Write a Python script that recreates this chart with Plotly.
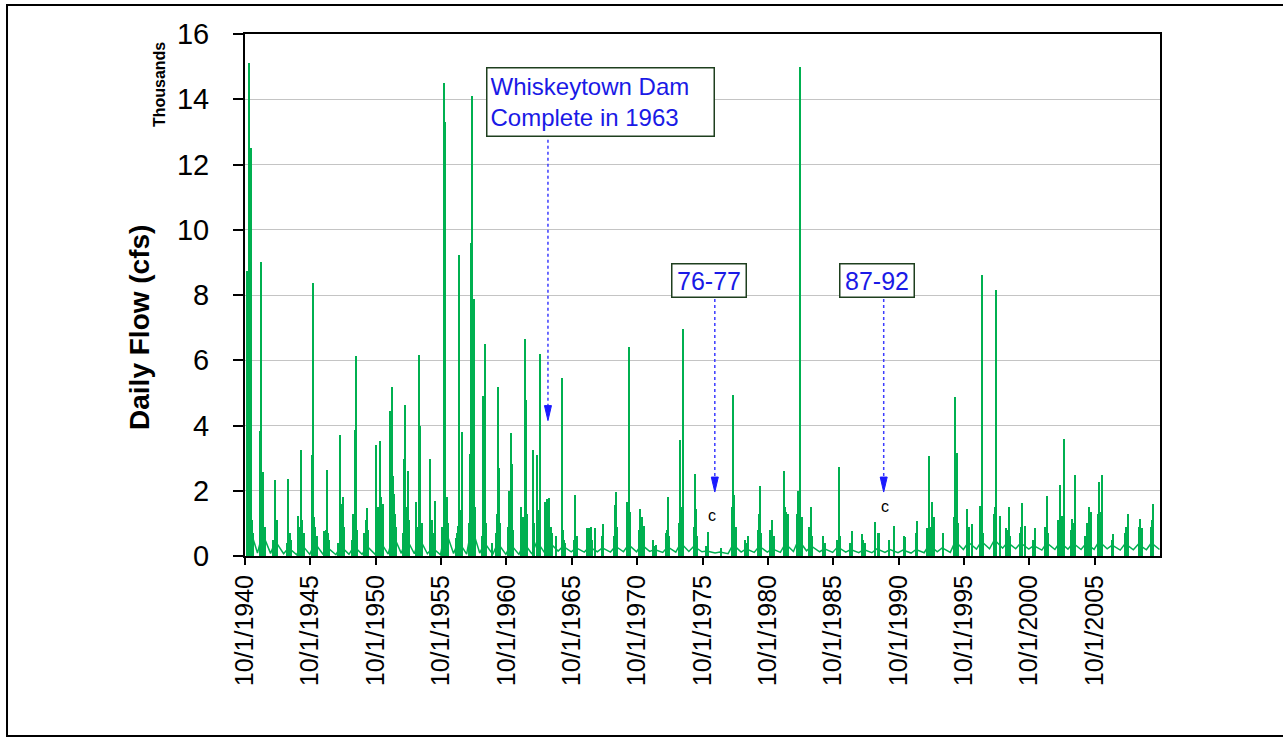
import plotly.graph_objects as go

# ---------------- data ----------------
# major daily-flow spikes (date, cfs)
spike_dates = [
    "1940-12-01", "1940-12-24", "1941-02-08", "1941-03-25", "1941-12-10", "1942-01-08", "1942-03-04",
    "1943-01-12", "1944-02-03", "1944-11-06", "1945-01-22", "1945-11-22", "1945-12-20", "1946-10-30",
    "1947-01-22", "1948-01-08", "1948-04-08", "1949-02-28", "1949-03-28", "1950-02-06", "1950-10-30",
    "1951-01-30", "1951-05-04", "1951-11-24", "1952-01-01", "1952-01-26", "1952-12-16", "1953-01-15",
    "1953-03-18", "1953-11-03", "1954-01-19", "1954-02-14", "1954-12-08", "1955-04-27", "1955-12-28",
    "1956-01-15", "1956-02-06", "1956-11-28", "1957-01-11", "1957-02-21", "1957-05-16", "1957-12-28",
    "1958-01-19", "1958-02-24", "1958-04-12", "1959-01-04", "1959-02-13", "1959-09-13", "1960-02-06",
    "1960-03-07", "1960-12-09", "1961-02-03", "1961-03-11", "1961-11-24", "1962-02-28", "1962-03-26",
    "1962-10-16", "1963-02-10", "1963-04-20", "1963-05-05", "1963-10-01", "1963-11-14", "1964-01-22",
    "1964-07-23", "1964-12-27", "1965-01-26", "1966-01-12", "1966-12-20", "1967-02-06", "1967-03-22",
    "1967-07-20", "1968-03-07", "1969-01-15", "1969-02-13", "1970-01-01", "1970-02-17", "1970-04-05",
    "1971-01-08", "1971-04-08", "1972-02-17", "1972-12-13", "1973-02-06", "1974-01-22", "1974-04-22",
    "1975-03-15", "1975-04-10", "1976-03-17", "1978-02-10", "1978-03-11", "1979-04-02", "1980-01-04",
    "1980-03-10", "1980-12-13", "1981-02-06", "1981-12-28", "1982-02-28", "1982-04-16", "1983-02-06",
    "1983-03-14", "1983-04-01", "1984-01-22", "1984-12-13", "1986-03-18", "1987-03-25", "1987-12-28",
    "1988-12-13", "1989-04-02", "1990-06-13", "1991-04-13", "1992-03-04", "1992-12-05", "1993-02-17",
    "1993-04-23", "1993-07-05", "1994-03-10", "1995-01-30", "1995-03-18", "1995-12-20", "1996-05-08",
    "1997-01-11", "1997-02-10", "1998-03-14", "1998-04-01", "1998-07-02", "1999-01-04", "1999-03-07",
    "2000-03-25", "2000-05-26", "2001-03-29", "2002-02-06", "2003-02-10", "2003-04-01", "2003-06-10",
    "2004-01-26", "2004-04-01", "2005-03-18", "2005-05-05", "2005-06-21", "2006-02-06", "2006-03-07",
    "2006-05-08", "2007-03-11", "2008-04-20", "2009-04-09", "2009-05-26", "2010-04-05",
]
spike_flows = [
    8740, 6400, 15100, 12500, 3840, 9000, 2570,
    2330, 2350, 1240, 3240, 3100, 8360, 770,
    2630, 3700, 1800, 3870, 6140, 1470, 3400,
    3540, 1600, 4450, 5170, 2450, 2980, 4630,
    2600, 1660, 6170, 3980, 2980, 1700, 14500,
    8100, 13300, 560, 930, 9240, 3800, 3140,
    9600, 14100, 7870, 4900, 6500, 400, 5170,
    2700, 1980, 3770, 2820, 1500, 6660, 4770,
    3250, 3100, 6200, 4260, 1650, 1760, 1780,
    600, 5460, 800, 1860, 870, 850, 900,
    870, 980, 1550, 1970, 1650, 6400, 1350,
    1450, 930, 300, 700, 1800, 3550, 6950,
    2500, 1450, 750, 4920, 1860, 600, 800,
    2160, 800, 1100, 2600, 1350, 1300, 1100,
    15000, 3430, 1500, 600, 2720, 770, 670,
    1030, 700, 930, 580, 1080, 870, 3060,
    1650, 1190, 700, 4860, 3170, 1450, 980,
    1540, 8600, 8160, 1960, 1230, 870, 1500,
    1640, 920, 870, 1840, 2170, 1230, 3580,
    1130, 2490, 1020, 1500, 1340, 2260, 1340,
    2490, 660, 1300, 1130, 870, 1600,
]

# smaller storm responses (estimated from the dense lower band)
minor_dates = [
    "1941-01-10", "1941-04-25", "1941-05-20", "1941-11-20", "1942-02-10", "1942-04-10",
    "1942-11-25", "1943-02-15", "1943-03-30", "1943-12-10", "1944-03-05", "1944-04-20",
    "1944-12-20", "1945-02-25", "1945-04-05", "1946-01-15", "1946-02-20", "1946-04-01",
    "1946-12-05", "1947-02-20", "1947-03-20", "1947-11-20", "1948-02-20", "1948-03-05", "1948-05-15",
    "1948-12-15", "1949-01-20", "1949-04-20", "1949-11-20", "1950-01-10", "1950-03-15",
    "1950-12-10", "1951-02-20", "1951-03-20", "1951-12-15", "1952-02-20", "1952-03-25", "1952-04-20",
    "1952-11-20", "1953-02-10", "1953-04-20", "1953-12-10", "1954-03-10", "1954-04-10",
    "1954-11-20", "1955-01-20", "1955-03-01", "1955-11-15", "1956-03-10", "1956-04-15",
    "1956-12-20", "1957-03-20", "1957-04-15", "1957-11-20", "1958-03-15", "1958-05-10",
    "1958-11-20", "1959-01-25", "1959-03-20", "1959-12-20", "1960-01-20", "1960-04-10",
    "1960-11-20", "1961-01-15", "1961-04-05", "1961-12-15", "1962-01-20", "1962-04-20",
    "1962-11-20", "1963-01-25", "1963-03-20", "1963-12-20", "1964-02-20", "1964-04-10",
    "1965-02-20", "1965-04-10", "1965-12-10", "1966-03-10", "1967-01-10", "1967-04-20",
    "1968-01-20", "1968-02-20", "1968-12-20", "1969-03-20", "1970-03-10", "1970-12-05", "1971-03-01",
    "1971-12-20", "1972-03-20", "1973-01-15", "1973-03-20", "1973-12-15", "1974-03-05",
    "1975-02-10", "1975-05-01", "1976-01-15", "1977-03-01", "1978-01-15", "1978-04-20",
    "1979-01-10", "1979-02-20", "1980-01-25", "1980-04-10", "1981-03-20", "1982-01-20",
    "1982-03-20", "1982-05-01", "1982-12-20", "1983-01-25", "1983-05-05", "1983-12-10", "1984-03-05",
    "1985-02-10", "1986-01-20", "1986-04-10", "1987-01-15", "1988-01-20", "1988-03-10",
    "1989-03-10", "1990-01-15", "1991-03-05", "1992-02-15", "1993-01-20", "1993-03-20",
    "1994-02-20", "1995-01-10", "1995-04-10", "1996-01-20", "1996-02-20", "1996-12-15", "1997-03-20",
    "1998-01-20", "1998-02-10", "1999-02-15", "1999-04-10", "2000-01-20", "2000-02-20",
    "2001-01-20", "2001-12-20", "2002-03-10", "2002-12-20", "2003-03-15", "2003-12-25", "2004-02-20",
    "2005-01-10", "2005-02-20", "2005-12-30", "2006-04-05", "2007-02-10", "2008-01-25", "2008-02-25",
    "2009-02-20", "2009-03-10", "2010-01-20", "2010-02-10",
]
minor_flows = [
    1400, 1100, 700, 600, 1300, 900,
    500, 900, 1100, 400, 700, 500,
    900, 1100, 700, 1200, 900, 600,
    800, 700, 500, 400, 700, 1600, 900,
    500, 1300, 800, 700, 1100, 800,
    1500, 1800, 900, 1400, 1900, 1300, 900,
    700, 1500, 1100, 900, 1600, 1000,
    800, 1100, 700, 900, 1800, 1000,
    700, 1400, 1100, 1000, 2600, 1500,
    600, 1800, 1000, 700, 1300, 1000,
    900, 1400, 800, 900, 1200, 1300,
    1000, 1600, 1400, 1500, 900, 700,
    500, 400, 500, 600, 700, 500,
    600, 500, 600, 900, 900, 800, 1200,
    500, 350, 800, 600, 1000, 1500,
    900, 600, 300, 250, 1500, 900,
    500, 400, 1300, 700, 600, 1500,
    1000, 700, 1300, 2000, 1200, 900, 600,
    400, 500, 600, 400, 500, 400,
    700, 500, 600, 700, 1400, 900,
    600, 1200, 1000, 700, 900, 1100, 700,
    1300, 1500, 800, 600, 700, 900,
    500, 900, 700, 1100, 900, 800, 1000,
    600, 700, 1300, 1100, 500, 700, 900,
    700, 900, 900, 1100,
]

# seasonal base flow by water year: winter (Feb 1) and late summer (Sep 15)
water_years = list(range(1941, 2011))
winter_base = [
    900, 700, 450, 250, 350, 400, 250, 300, 300, 300, 450, 650, 550, 550, 250, 800, 450, 900, 400, 400,
    350, 400, 450, 400, 300, 250, 280, 250, 300, 350, 350, 200, 280, 400, 300, 150, 120, 350, 220, 300,
    220, 380, 500, 300, 220, 280, 200, 200, 220, 200, 180, 200, 350, 250, 450, 420, 450, 500, 420, 400,
    320, 400, 420, 400, 380, 450, 330, 380, 360, 400,
]
summer_base = [
    90, 80, 70, 40, 50, 60, 40, 50, 50, 50, 60, 80, 70, 70, 40, 80, 60, 90, 50, 50,
    50, 60, 80, 150, 130, 120, 130, 120, 130, 130, 140, 110, 120, 140, 130, 90, 70, 120, 110, 120,
    110, 140, 160, 130, 110, 120, 100, 100, 110, 100, 90, 100, 130, 110, 200, 210, 220, 240, 220, 210,
    180, 200, 210, 200, 200, 220, 180, 190, 190, 200,
]

tick_dates = ["%d-10-01" % y for y in range(1940, 2010, 5)]
tick_text = ["10/1/%d" % y for y in range(1940, 2010, 5)]
y_ticks = list(range(0, 16001, 2000))
y_text = [str(v // 1000) for v in y_ticks]

# ---------------- figure ----------------
GREEN = "#00B050"
BLUE = "#1A1AE6"
FONT = "Arial, Liberation Sans, sans-serif"
DAY_MS = 86400000

base_x, base_y = [], []
for wy, w, s in zip(water_years, winter_base, summer_base):
    base_x += ["%d-02-01" % wy, "%d-09-15" % wy]
    base_y += [w, s]

fig = go.Figure()
fig.add_trace(go.Scatter(x=base_x, y=base_y, mode="lines",
                         line=dict(color=GREEN, width=1.5), hoverinfo="skip", showlegend=False))
fig.add_trace(go.Bar(x=minor_dates, y=minor_flows, width=[38 * DAY_MS] * len(minor_dates),
                     marker=dict(color=GREEN, line=dict(width=0)), showlegend=False))
fig.add_trace(go.Bar(x=spike_dates, y=spike_flows, width=[42 * DAY_MS] * len(spike_dates),
                     marker=dict(color=GREEN, line=dict(width=0)), showlegend=False))

fig.update_layout(
    width=1283, height=747,
    margin=dict(l=245, r=123, t=34, b=191, autoexpand=False),
    paper_bgcolor="white", plot_bgcolor="white",
    barmode="overlay", bargap=0,
    font=dict(family=FONT, color="black"),
    showlegend=False,
)
fig.update_xaxes(
    type="date", range=["1940-10-01", "2010-09-30"],
    tickmode="array", tickvals=tick_dates, ticktext=tick_text, tickangle=-90,
    tickfont=dict(size=25, family=FONT, color="black"),
    showgrid=False, zeroline=False,
    showline=True, linecolor="black", linewidth=2, mirror=True,
    ticks="outside", ticklen=7, tickwidth=2, tickcolor="black",
)
fig.update_yaxes(
    range=[0, 16000], tickmode="array", tickvals=y_ticks, ticktext=y_text,
    tickfont=dict(size=29, family=FONT, color="black"),
    showgrid=True, gridcolor="#C4C4C4", gridwidth=1, zeroline=False,
    showline=True, linecolor="black", linewidth=2, mirror=True,
    ticks="outside", ticklen=10, tickwidth=2, tickcolor="black",
    ticklabelstandoff=18,
)

# axis titles
fig.add_annotation(xref="paper", yref="paper", x=-0.1148, y=0.4387, text="<b>Daily Flow (cfs)</b>",
                   xanchor="center", yanchor="middle",
                   textangle=-90, showarrow=False, font=dict(size=28, family=FONT, color="black"))
fig.add_annotation(xref="paper", yref="paper", x=-0.094, y=0.904, text="<b>Thousands</b>",
                   xanchor="center", yanchor="middle",
                   textangle=-90, showarrow=False, font=dict(size=16, family=FONT, color="black"))

# callout boxes
BOX = dict(showarrow=False, bgcolor="white", bordercolor="#1E3F1E", borderwidth=1.5, borderpad=3)
fig.add_annotation(x="1967-12-02", y=13910, text="Whiskeytown Dam<br>Complete in 1963", align="left",
                   width=220, height=61, font=dict(size=24, family=FONT, color=BLUE), **BOX)
fig.add_annotation(x="1976-03-28", y=8440, text="76-77", width=67, height=26,
                   font=dict(size=25, family=FONT, color=BLUE), **BOX)
fig.add_annotation(x="1989-02-13", y=8440, text="87-92", width=67, height=26,
                   font=dict(size=25, family=FONT, color=BLUE), **BOX)

# dotted arrows
arrows = [("1963-12-05", 12760, 4150), ("1976-09-09", 7880, 1960), ("1989-08-11", 7880, 1960)]
for xd, ytop, ytip in arrows:
    fig.add_shape(type="line", xref="x", yref="y", x0=xd, x1=xd, y0=ytop, y1=ytip + 300,
                  line=dict(color="#3C3CFF", width=1.5, dash="dot"))
    fig.add_shape(type="path", xref="x", yref="y", xsizemode="pixel", ysizemode="pixel",
                  xanchor=xd, yanchor=ytip, path="M0,0 L-3.5,15 L3.5,15 Z",
                  fillcolor="#1A1AFF", line=dict(color="#1A1AFF", width=1))

# "c" markers
for xd, yv in [("1976-06-17", 1230), ("1989-09-09", 1530)]:
    fig.add_annotation(x=xd, y=yv, text="c", showarrow=False,
                       font=dict(size=16, family=FONT, color="black"))

# outer frame
fig.add_shape(type="rect", xref="paper", yref="paper", x0=-0.2601, x1=1.142, y0=-0.3448, y1=1.0556,
              line=dict(color="black", width=2), fillcolor="rgba(0,0,0,0)", layer="above")

fig.write_html("out.html", config={"displayModeBar": False},
               post_script="document.body.style.margin='0';document.body.style.overflow='hidden';")
